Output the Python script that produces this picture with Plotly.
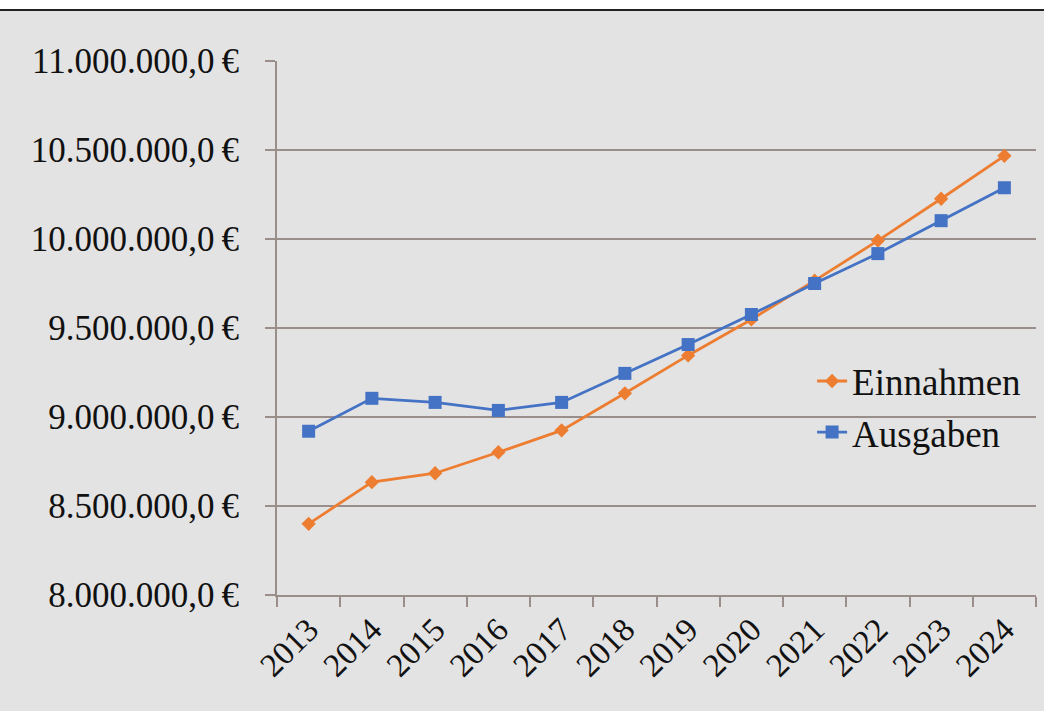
import plotly.graph_objects as go

years = ["2013", "2014", "2015", "2016", "2017", "2018", "2019", "2020", "2021", "2022", "2023", "2024"]
einnahmen = [8400000, 8634000, 8684000, 8802000, 8925000, 9133000, 9346000, 9548000, 9766000, 9991000, 10226000, 10467000]
ausgaben = [8920000, 9105000, 9082000, 9037000, 9082000, 9245000, 9407000, 9576000, 9750000, 9918000, 10103000, 10288000]

FONT = "Liberation Serif"
GRID = "#9a8e8a"
BG = "#e3e3e3"

fig = go.Figure()
fig.add_trace(go.Scatter(
    x=years, y=einnahmen, name="Einnahmen", mode="lines+markers",
    line=dict(color="#ED7D31", width=2.8),
    marker=dict(symbol="diamond", size=11, color="#ED7D31"),
))
fig.add_trace(go.Scatter(
    x=years, y=ausgaben, name="Ausgaben", mode="lines+markers",
    line=dict(color="#4472C4", width=2.8),
    marker=dict(symbol="square", size=13, color="#4472C4"),
))

L, R, T, B = 277, 8, 61, 116
W, H = 1044, 711
ph = H - T - B

fig.update_layout(
    width=W, height=H,
    margin=dict(l=L, r=R, t=T, b=B),
    paper_bgcolor=BG, plot_bgcolor=BG,
    separators=",.",
    font=dict(family=FONT, color="#111111", size=32),
    showlegend=True,
    legend=dict(
        x=0.705, y=0.458, xanchor="left", yanchor="top",
        bgcolor="rgba(0,0,0,0)",
        font=dict(family=FONT, size=37, color="#111111"),
        itemwidth=30,
        tracegroupgap=0,
    ),
    xaxis=dict(
        type="category", range=[-0.5, 11.5],
        tickson="boundaries", ticks="outside", ticklen=10, tickwidth=2, tickcolor=GRID,
        tickangle=-45, showgrid=False, zeroline=False,
        showline=True, linecolor=GRID, linewidth=2,
        tickfont=dict(family=FONT, size=33),
    ),
    yaxis=dict(
        range=[8000000, 11000000], dtick=500000, tick0=8000000,
        tickformat=",.1f", ticksuffix="\u2009€",
        ticks="outside", ticklen=10, tickwidth=2, tickcolor=GRID,
        ticklabelstandoff=19,
        showgrid=True, gridcolor=GRID, gridwidth=2,
        showline=True, linecolor=GRID, linewidth=2, zeroline=False,
        tickfont=dict(family=FONT, size=35),
    ),
    shapes=[
        dict(type="rect", xref="paper", yref="paper",
             x0=-L / (W - L - R), x1=1 + R / (W - L - R),
             y0=1 + (T - 10) / ph, y1=1 + T / ph + 0.01,
             fillcolor="white", line=dict(width=0), layer="above"),
        dict(type="line", xref="paper", yref="paper",
             x0=-L / (W - L - R), x1=1 + R / (W - L - R),
             y0=1 + (T - 10) / ph, y1=1 + (T - 10) / ph,
             line=dict(color="#222222", width=2), layer="above"),
    ],
)

fig.write_html("out.html")
